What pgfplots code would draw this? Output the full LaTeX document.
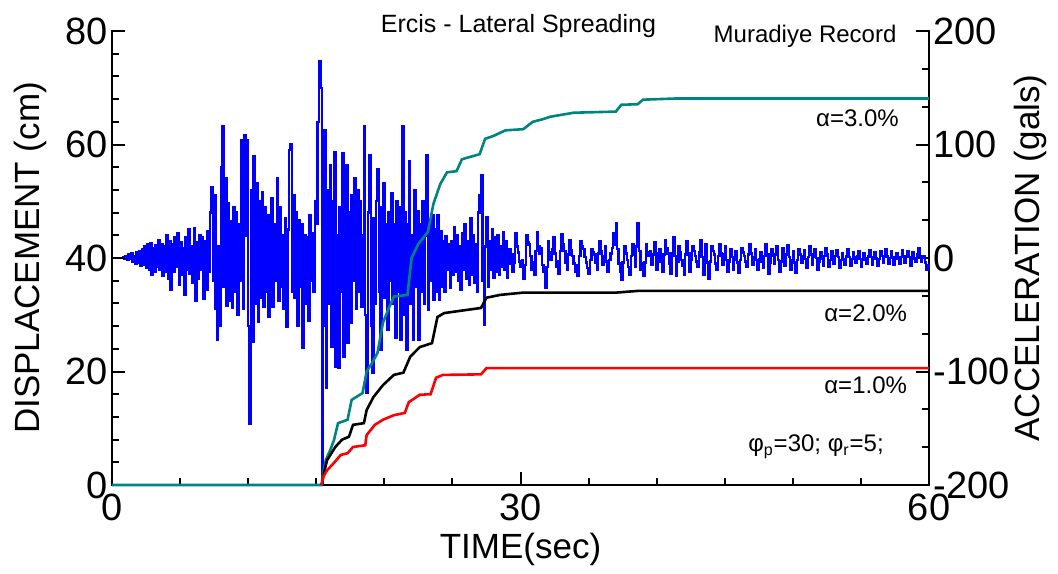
\documentclass[border=0pt]{standalone}
\usepackage{fontspec}
\setmainfont{Liberation Sans}
\usepackage{pgfplots}
\pgfplotsset{compat=1.18}
\definecolor{tealc}{RGB}{0,132,128}
\begin{document}
\begin{tikzpicture}
\path[use as bounding box] (-56pt,-44pt) rectangle (473pt,242.5pt);
\pgfplotsset{
  common/.style={
    width=408.5pt, height=227pt, scale only axis, at={(0,0)}, anchor=south west,
    xmin=0, xmax=60,
    tick align=inside, major tick length=6.5pt, minor tick length=3.5pt,
    axis line style={line width=1.4pt, line cap=rect},
    every tick/.style={line width=1pt, black},
    /pgf/number format/assume math mode=true,
    tick label style={font=\fontsize{19}{19}\selectfont},
    label style={font=\fontsize{17.5}{17.5}\selectfont},
    clip=false,
  }
}
% acceleration axis (right)
\begin{axis}[common,
  ymin=-200, ymax=200,
  axis x line=none, axis y line*=right,
  ytick={-200,-100,0,100,200}, minor y tick num=2,
  yticklabel style={inner sep=2pt},
  ylabel={ACCELERATION (gals)},
  ylabel style={at={(axis description cs:1.124,0.5)}, anchor=center},
]
\addplot[blue, line width=1.2pt, const plot, line join=miter] coordinates {
(0,0)(0.6,0)(0.8,1)(0.9,-1)(1.0,2)(1.1,-2)(1.2,3)(1.3,-1)(1.4,4)(1.5,-3)(1.6,2)(1.7,-5)(1.8,5)(1.9,-4)(2.0,6)(2.1,-7)(2.2,8)(2.3,-6)(2.4,10)(2.5,-9)(2.6,12)(2.7,-10)(2.8,13)(2.9,-15)(3.0,9)(3.1,-12)(3.2,11)(3.3,-8)(3.4,16)(3.5,-10)(3.6,12)(3.7,-16)(3.8,10)(3.9,-12)
(4.0,20)(4.1,-18)(4.2,15)(4.3,-28)(4.4,12)(4.5,-12)(4.6,18)(4.7,-8)(4.8,22)(4.9,-24)(5.0,14)(5.1,-15)(5.2,9)(5.3,-32)(5.4,18)(5.5,-10)(5.6,25)(5.7,-14)(5.8,10)(5.9,-22)
(6.0,26)(6.1,-38)(6.2,14)(6.3,-18)(6.4,20)(6.5,-10)(6.6,18)(6.7,-36)(6.8,15)(6.9,-28)(7.0,24)(7.1,-12)(7.2,40)(7.3,62)(7.4,-20)(7.5,55)(7.6,-45)(7.7,-72)(7.8,10)(7.9,-60)
(8.0,80)(8.1,116)(8.2,-25)(8.3,70)(8.4,-42)(8.5,48)(8.6,-38)(8.7,32)(8.8,-44)(8.9,45)(9.0,-30)(9.1,40)(9.2,-50)(9.3,30)(9.4,-20)(9.5,104)(9.6,-45)(9.7,108)(9.8,20)(9.9,104)
(10.0,-60)(10.1,-146)(10.2,60)(10.3,-74)(10.4,90)(10.5,-40)(10.6,66)(10.7,-56)(10.8,50)(10.9,-35)(11.0,58)(11.1,-43)(11.2,45)(11.3,-30)(11.4,38)(11.5,-52)(11.6,25)(11.7,53)(11.8,-43)(11.9,30)
(12.0,-20)(12.1,70)(12.2,-38)(12.3,45)(12.4,-25)(12.5,20)(12.6,-45)(12.7,35)(12.8,-61)(12.9,25)(13.0,95)(13.1,100)(13.2,-30)(13.3,55)(13.4,-35)(13.5,40)(13.6,-60)(13.7,33)(13.8,-25)(13.9,30)
(14.0,-79)(14.1,20)(14.2,-40)(14.3,18)(14.4,-55)(14.5,38)(14.6,-20)(14.7,22)(14.8,-30)(14.9,50)(15.0,30)(15.1,120)(15.2,173)(15.3,150)(15.4,-200)(15.5,-60)(15.6,113)(15.7,-114)(15.8,60)(15.9,-40)
(16.0,82)(16.1,-78)(16.2,50)(16.3,93)(16.4,-96)(16.5,20)(16.6,-97)(16.7,45)(16.8,-30)(16.9,92)(17.0,-87)(17.1,60)(17.2,82)(17.3,-75)(17.4,40)(17.5,-57)(17.6,55)(17.7,-20)(17.8,70)(17.9,-45)
(18.0,60)(18.1,-30)(18.2,50)(18.3,-43)(18.4,20)(18.5,116)(18.6,-50)(18.7,-119)(18.8,40)(18.9,91)(19.0,-60)(19.1,-101)(19.2,35)(19.3,-40)(19.4,50)(19.5,78)(19.6,-30)(19.7,-81)(19.8,45)(19.9,66)
(20.0,-35)(20.1,30)(20.2,-63)(20.3,40)(20.4,-20)(20.5,57)(20.6,-40)(20.7,30)(20.8,-70)(20.9,50)(21.0,-30)(21.1,45)(21.2,-72)(21.3,116)(21.4,-50)(21.5,40)(21.6,-81)(21.7,30)(21.8,85)(21.9,-40)
(22.0,20)(22.1,-72)(22.2,60)(22.3,-25)(22.4,41)(22.5,-72)(22.6,30)(22.7,-30)(22.8,50)(22.9,-40)(23.0,20)(23.1,91)(23.2,-46)(23.3,30)(23.4,-20)(23.5,38)(23.6,-37)(23.7,25)(23.8,-30)(23.9,38)
(24.0,-37)(24.1,24)(24.2,-25)(24.3,15)(24.4,-30)(24.5,19)(24.6,-10)(24.7,12)(24.8,-26)(24.9,15)(25.0,-15)(25.1,27)(25.2,-12)(25.3,20)(25.4,-20)(25.5,10)(25.6,-28)(25.7,22)(25.8,-10)(25.9,30)
(26.0,-18)(26.1,15)(26.2,-24)(26.3,35)(26.4,-15)(26.5,20)(26.6,-22)(26.7,12)(26.8,-30)(26.9,40)(27.0,55)(27.1,73)(27.2,-20)(27.3,-59)(27.4,10)(27.5,36)(27.6,-25)(27.7,15)(27.8,-10)(27.9,25)
(28.0,-17)(28.1,18)(28.2,-12)(28.3,20)(28.4,-15)(28.5,10)(28.6,-8)(28.7,23)(28.8,-10)(28.9,15)
(29.0,-17)(29.1,-5)(29.2,8)(29.3,3)(29.4,-12)(29.5,-4)(29.6,22)(29.7,10)(29.8,5)(29.9,-3)
(30.0,-8)(30.1,-2)(30.2,-18)(30.3,-6)(30.4,20)(30.5,14)(30.6,12)(30.7,2)(30.8,-10)(30.9,-4)
(31.0,-15)(31.1,6)(31.2,23)(31.3,10)(31.4,4)(31.5,9)(31.6,-6)(31.7,-12)(31.8,-26)(31.9,-8)
(32.0,15)(32.1,5)(32.2,-2)(32.3,8)(32.4,18)(32.5,4)(32.6,-8)(32.7,-3)(32.8,-14)(32.9,6)
(33.0,21)(33.1,12)(33.2,6)(33.3,-4)(33.4,-10)(33.5,3)(33.6,16)(33.7,7)(33.8,2)(33.9,-5)
(34.0,-12)(34.1,-6)(34.2,-16)(34.3,2)(34.4,15)(34.5,10)(34.6,8)(34.7,1)(34.8,-4)(34.9,-9)
(35.0,-14)(35.1,-2)(35.2,8)(35.3,5)(35.4,3)(35.5,-4)(35.6,-10)(35.7,4)(35.8,15)(35.9,6)
(36.0,-6)(36.1,2)(36.2,10)(36.3,-3)(36.4,-12)(36.5,-2)(36.6,4)(36.7,9)(36.8,22)(36.9,12)
(37.0,31)(37.1,8)(37.2,-5)(37.3,-12)(37.4,-19)(37.5,-4)(37.6,10)(37.7,4)(37.8,-2)(37.9,-8)
(38.0,-15)(38.1,2)(38.2,12)(38.3,3)(38.4,-8)(38.5,10)(38.6,31)(38.7,6)(38.8,-10)(38.9,-5)
(39.0,-16)(39.1,-4)(39.2,12)(39.3,5)(39.4,2)(39.5,6)(39.6,-6)(39.7,3)(39.8,14)(39.9,4)
(40.0,-10)(40.1,-3)(40.2,8)(40.3,2)(40.4,-12)(40.5,3)(40.6,16)(40.7,9)(40.8,4)(40.9,-5)
(41.0,-14)(41.1,4)(41.2,18)(41.3,2)(41.4,-16)(41.5,-3)(41.6,10)(41.7,5)(41.8,-2)(41.9,-7)
(42.0,-15)(42.1,3)(42.2,15)(42.3,4)(42.4,-12)(42.5,-2)(42.6,10)(42.7,6)(42.8,2)(42.9,-3)
(43.0,-8)(43.1,5)(43.2,16)(43.3,1)(43.4,-15)(43.5,-1)(43.6,12)(43.7,-4)(43.8,-18)(43.9,-3)
(44.0,10)(44.1,6)(44.2,3)(44.3,-5)(44.4,-10)(44.5,2)(44.6,12)(44.7,4)(44.8,-6)(44.9,3)
(45.0,10)(45.1,-2)(45.2,-12)(45.3,-3)(45.4,8)(45.5,1)(45.6,-10)(45.7,-2)(45.8,6)(45.9,-4)
(46.0,-13)(46.1,-2)(46.2,9)(46.3,5)(46.4,2)(46.5,-3)(46.6,-8)(46.7,3)(46.8,12)(46.9,4)
(47.0,-6)(47.1,1)(47.2,8)(47.3,-2)(47.4,-10)(47.5,-1)(47.6,5)(47.7,-3)(47.8,-9)(47.9,2)
(48.0,12)(48.1,3)(48.2,-14)(48.3,-4)(48.4,8)(48.5,2)(48.6,-5)(48.7,3)(48.8,10)(48.9,-2)
(49.0,-12)(49.1,-3)(49.2,9)(49.3,2)(49.4,-7)(49.5,3)(49.6,11)(49.7,1)(49.8,-10)(49.9,-2)
(50.0,6)(50.1,-4)(50.2,-13)(50.3,-2)(50.4,8)(50.5,3)(50.6,-4)(50.7,2)(50.8,7)(50.9,-1)
(51.0,-9)(51.1,1)(51.2,10)(51.3,3)(51.4,-6)(51.5,1)(51.6,8)(51.7,0)(51.8,-10)(51.9,-3)
(52.0,5)(52.1,-1)(52.2,-7)(52.3,2)(52.4,9)(52.5,3)(52.6,-8)(52.7,-2)(52.8,6)(52.9,1)
(53.0,-5)(53.1,2)(53.2,7)(53.3,1)(53.4,-9)(53.5,-2)(53.6,4)(53.7,-1)(53.8,-6)(53.9,2)
(54.0,8)(54.1,1)(54.2,-7)(54.3,-1)(54.4,5)(54.5,1)(54.6,-4)(54.7,2)(54.8,6)(54.9,-1)
(55.0,-8)(55.1,-2)(55.2,4)(55.3,0)(55.4,-5)(55.5,2)(55.6,7)(55.7,1)(55.8,-6)(55.9,-1)
(56.0,5)(56.1,0)(56.2,-7)(56.3,-1)(56.4,6)(56.5,2)(56.6,-4)(56.7,1)(56.8,8)(56.9,2)
(57.0,-5)(57.1,0)(57.2,6)(57.3,1)(57.4,-6)(57.5,-1)(57.6,4)(57.7,0)(57.8,-5)(57.9,1)
(58.0,7)(58.1,2)(58.2,-4)(58.3,1)(58.4,6)(58.5,1)(58.6,-7)(58.7,-1)(58.8,5)(58.9,0)
(59.0,-3)(59.1,3)(59.2,9)(59.3,2)(59.4,-3)(59.5,0)(59.6,2)(59.7,-4)(59.8,-10)(59.9,-6)(60,-8)
};
\end{axis}
% displacement axis (left)
\begin{axis}[common,
  ymin=0, ymax=80,
  axis x line*=bottom, axis y line*=left,
  xtick={0,30,60}, minor x tick num=5,
  ytick={0,20,40,60,80}, minor y tick num=4,
  xlabel={TIME(sec)}, ylabel={DISPLACEMENT (cm)},
  xlabel style={at={(axis description cs:0.5,-0.143)}, anchor=center},
  ylabel style={at={(axis description cs:-0.1,0.5)}, anchor=center},
  xticklabel style={yshift=-1pt},
  yticklabel style={inner sep=2pt},
]
\addplot[tealc, line width=1.3pt] coordinates {
(0,0)(15.4,0)(15.5,2)(15.7,4.4)(16.0,6)(16.3,7.9)(16.6,10.9)(17.3,11.5)(17.6,15)(18.4,16.2)(18.7,20)(19.1,21.5)(19.5,23.3)(19.9,28.6)(20.3,31)(20.7,33.2)(21.7,33.5)(22.0,40)(22.5,42.5)(23.2,44.6)(23.6,49.5)(24.1,53)(24.6,55.1)(25.3,55.3)(25.7,57.4)(27.0,58.3)(27.4,61)(28.0,61.5)(28.9,62.5)(30.2,62.7)(30.9,64)(31.7,64.5)(32.2,64.9)(33.9,65.6)(37.0,65.8)(37.4,67)(38.6,67.1)(39.0,67.9)(41.3,68.1)(60,68.1)
};
\addplot[black, line width=1.3pt] coordinates {
(15.4,0)(15.6,2.5)(15.8,4.4)(16.4,6.7)(16.9,8)(17.4,8.5)(17.7,10.6)(18.5,10.9)(18.7,13.2)(19.2,15.5)(19.9,17.6)(20.7,19.4)(21.4,19.8)(21.9,22.6)(22.6,24.3)(23.5,25)(23.9,29.6)(24.4,30.3)(25.6,30.7)(27.1,31.2)(27.5,33)(28.5,33.5)(30.2,33.9)(37.0,33.9)(38.6,34.2)(60,34.2)
};
\addplot[red, line width=1.3pt] coordinates {
(15.4,0)(15.5,1.4)(15.8,2.6)(16.3,3.9)(16.8,5.3)(17.3,5.6)(17.7,6.7)(18.6,7)(18.7,8.8)(19.3,10.6)(19.9,11.5)(20.7,12.3)(21.5,12.7)(21.8,14.6)(22.6,15.9)(23.4,16)(23.8,18.9)(24.3,19.4)(27.1,19.5)(27.5,20.6)(60,20.6)
};
\node[font=\fontsize{12.5}{12.5}\selectfont] at (axis cs:29.85,80.8) {Ercis - Lateral Spreading};
\node[font=\fontsize{12}{12}\selectfont] at (axis cs:50.9,79.0) {Muradiye Record};
\node[font=\fontsize{12}{12}\selectfont, anchor=east] at (axis cs:58.3,64.7) {α=3.0\%};
\node[font=\fontsize{12}{12}\selectfont, anchor=east] at (axis cs:58.9,30.3) {α=2.0\%};
\node[font=\fontsize{12}{12}\selectfont, anchor=east] at (axis cs:58.9,17.6) {α=1.0\%};
\node[font=\fontsize{12}{12}\selectfont] at (axis cs:51.7,6.7) {φ\textsubscript{p}=30; φ\textsubscript{r}=5;};
\end{axis}
\end{tikzpicture}
\end{document}
